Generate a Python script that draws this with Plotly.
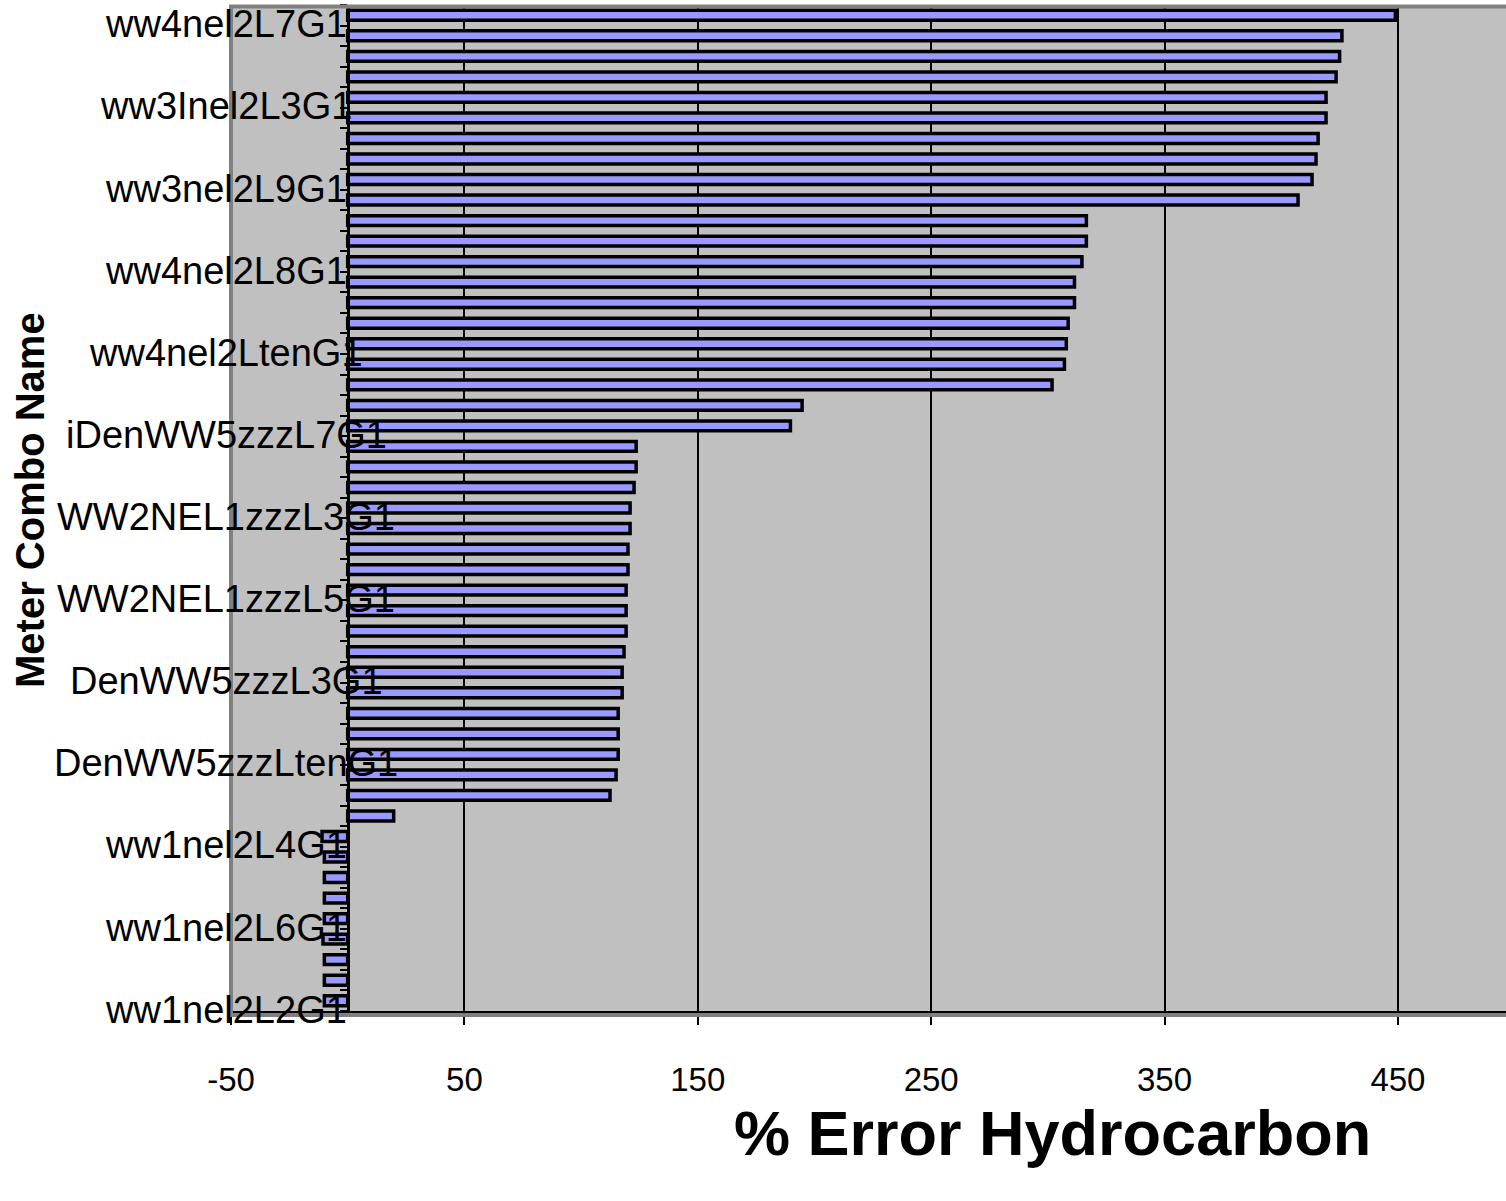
import plotly.graph_objects as go

# ---- data ----
values = [448.9, 426.0, 425.0, 423.5, 419.2, 419.2, 415.8, 414.9, 413.2, 407.2,
          316.5, 316.5, 314.6, 311.4, 311.4, 308.7, 307.9, 307.1, 301.8,
          194.7, 189.7,
          123.6, 123.6, 122.7, 121.0, 121.0, 120.1, 120.1, 119.3, 119.3, 119.3,
          118.4, 117.6, 117.6, 115.9, 115.9, 115.9, 115.0, 112.4,
          19.7,
          -11.0, -10.0, -10.0, -10.0, -10.0, -10.6, -10.0, -10.0, -10.0]

label_names = ["ww4nel2L7G1", "ww3Inel2L3G1", "ww3nel2L9G1", "ww4nel2L8G1",
               "ww4nel2LtenG1", "iDenWW5zzzL7G1", "WW2NEL1zzzL3G1",
               "WW2NEL1zzzL5G1", "DenWW5zzzL3G1", "DenWW5zzzLtenG1",
               "ww1nel2L4G1", "ww1nel2L6G1", "ww1nel2L2G1"]
label_step = 4

x_tick_values = [-50, 50, 150, 250, 350, 450]
x_tick_labels = ["-50", "50", "150", "250", "350", "450"]

x_title = "% Error Hydrocarbon"
y_title = "Meter Combo Name"

# ---- layout constants ----
FONT = "Liberation Sans, Arial, sans-serif"
W, H = 1506, 1201
ML, MR, MT, MB = 231, 0, 5, 190
plot_w = W - ML - MR
plot_h = H - MT - MB
X_MIN, X_MAX = -50, 496.3

n = len(values)
positions = list(range(1, n + 1))
label_pos = positions[::label_step]

fig = go.Figure(go.Bar(
    x=values, y=positions, orientation="h",
    marker=dict(color="#9999FF", line=dict(color="black", width=3.5)),
    hoverinfo="x",
))

fig.update_layout(
    width=W, height=H,
    margin=dict(l=ML, r=MR, t=MT, b=MB, autoexpand=False),
    paper_bgcolor="white", plot_bgcolor="#C0C0C0",
    showlegend=False, bargap=0.52,
    font=dict(family=FONT, color="black"),
)

fig.update_xaxes(
    range=[X_MIN, X_MAX], tickmode="array",
    tickvals=x_tick_values, ticktext=x_tick_labels,
    showgrid=True, gridcolor="black", gridwidth=2,
    zeroline=False, showline=True, linecolor="black", linewidth=2,
    ticks="outside", ticklen=12, tickwidth=2, tickcolor="black",
    ticklabelstandoff=26,
    tickfont=dict(size=33, family=FONT), automargin=False,
)

zero_pos = (0 - X_MIN) / (X_MAX - X_MIN)
fig.update_yaxes(
    range=[n + 0.5, 0.5], tickmode="array",
    tickvals=[p + 0.5 for p in range(0, n + 1)],
    showticklabels=False, ticks="outside", ticklen=7, tickwidth=1.5,
    tickcolor="black", showline=True, linecolor="black", linewidth=2.5,
    showgrid=False, zeroline=False, anchor="free", position=zero_pos,
    automargin=False,
)

# gray plot-area frame (Excel style)
fig.add_shape(type="rect", xref="paper", yref="paper",
              x0=0, x1=1.1, y0=-4 / plot_h, y1=1 - 1.5 / plot_h,
              line=dict(color="#808080", width=4), layer="above")

# category labels (every 4th category)
label_cx = (226 - ML) / plot_w
for name, p in zip(label_names, label_pos):
    fig.add_annotation(x=label_cx, xref="paper", y=p, yref="y", text=name,
                       showarrow=False, xanchor="center", yanchor="middle",
                       yshift=-9, font=dict(size=38, family=FONT, color="black"))

# axis titles
fig.add_annotation(x=(30 - ML) / plot_w, xref="paper",
                   y=(H - MB - 500) / plot_h, yref="paper",
                   text=y_title, textangle=-90, showarrow=False,
                   xanchor="center", yanchor="middle",
                   font=dict(size=40, family=FONT, color="black", weight="bold"))
fig.add_annotation(x=(1052 - ML) / plot_w, xref="paper",
                   y=(H - MB - 1133) / plot_h, yref="paper",
                   text=x_title, showarrow=False,
                   xanchor="center", yanchor="middle",
                   font=dict(size=63, family=FONT, color="black", weight="bold"))

fig.write_html("out.html")
